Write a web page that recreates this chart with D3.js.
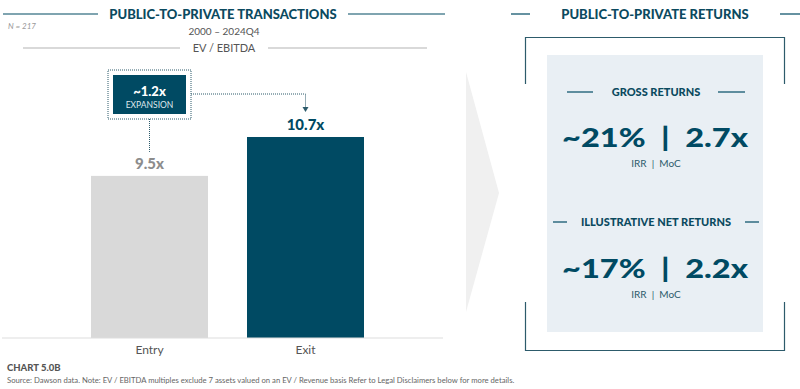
<!DOCTYPE html>
<meta charset="utf-8">
<style>
body { margin: 0; background: #fff; }
svg { font-family: Lato, "Open Sans", sans-serif; }
.bar-entry { fill: #d9d9d9; }
.bar-exit { fill: #004a63; }
</style>
<body>
<script src="https://d3js.org/d3.v7.min.js"></script>
<script>
var categories = ["Entry", "Exit"];
var multiples = [9.5, 10.7];
var valueLabels = ["9.5x", "10.7x"];
var expansionLabel = "~1.2x";
var returnSections = ["GROSS RETURNS", "ILLUSTRATIVE NET RETURNS"];
var returnValues = ["~21%  |  2.7x", "~17%  |  2.2x"];

var w = 800, h = 389;
var teal = "#004a63", dark = "#0b4a5f";
var svg = d3.select("body").append("svg").attr("width", w).attr("height", h);

// left panel header
svg.append("line").attr("x1", 3).attr("x2", 98).attr("y1", 14).attr("y2", 14).attr("stroke", teal).attr("stroke-width", 1.2);
svg.append("line").attr("x1", 348).attr("x2", 445).attr("y1", 14).attr("y2", 14).attr("stroke", teal).attr("stroke-width", 1.2);
svg.append("text").attr("x", 223).attr("y", 19).attr("text-anchor", "middle")
  .attr("font-size", 13).attr("font-weight", 900).attr("fill", dark).text("PUBLIC-TO-PRIVATE TRANSACTIONS");
svg.append("text").attr("x", 8).attr("y", 29).attr("font-size", 8).attr("font-style", "italic")
  .attr("fill", "#999").text("N = 217");
svg.append("text").attr("x", 224).attr("y", 35).attr("text-anchor", "middle")
  .attr("font-size", 10).attr("fill", "#555").text("2000 – 2024Q4");
svg.append("line").attr("x1", 23).attr("x2", 180).attr("y1", 48).attr("y2", 48).attr("stroke", "#ccc").attr("stroke-width", 1.5);
svg.append("line").attr("x1", 268).attr("x2", 427).attr("y1", 48).attr("y2", 48).attr("stroke", "#ccc").attr("stroke-width", 1.5);
svg.append("text").attr("x", 224).attr("y", 52).attr("text-anchor", "middle")
  .attr("font-size", 11).attr("fill", "#555").text("EV / EBITDA");

// bars
var x = d3.scaleBand().domain(categories).range([91, 364]).paddingInner(0.25).paddingOuter(0);
var y = d3.scaleLinear().domain([4.5, 12]).range([338, 94.85]);

var g = svg.append("g");
g.selectAll("rect").data(categories).enter().append("rect")
  .attr("class", function(d, i) { return i == 0 ? "bar-entry" : "bar-exit"; })
  .attr("x", function(d) { return x(d); })
  .attr("y", function(d, i) { return y(multiples[i]); })
  .attr("width", x.bandwidth())
  .attr("height", function(d, i) { return y.range()[0] - y(multiples[i]); });

g.selectAll(".vlabel").data(categories).enter().append("text")
  .attr("class", "vlabel")
  .attr("x", function(d) { return x(d) + x.bandwidth() / 2; })
  .attr("y", function(d, i) { return y(multiples[i]) - 7; })
  .attr("text-anchor", "middle").attr("font-size", 15).attr("font-weight", 900)
  .attr("fill", function(d, i) { return i == 0 ? "#8c8c8c" : teal; })
  .text(function(d, i) { return valueLabels[i]; });

var xAxis = g.append("g").attr("transform", "translate(0,338)")
  .call(d3.axisBottom(x).tickSize(0).tickPadding(7));
xAxis.select(".domain").attr("d", "M2,0H443").attr("stroke", "#ddd").attr("stroke-width", 1.2);
xAxis.selectAll("text").attr("font-size", 12).attr("fill", "#555").attr("font-family", "Lato, sans-serif");

// expansion callout
var cx = x("Entry") + x.bandwidth() / 2, ex = x("Exit") + x.bandwidth() / 2;
svg.append("rect").attr("x", 108).attr("y", 70).attr("width", 83).attr("height", 49)
  .attr("fill", "none").attr("stroke", "#2d5b6b").attr("stroke-width", 1).attr("stroke-dasharray", "1,1");
svg.append("rect").attr("x", 113).attr("y", 75).attr("width", 73).attr("height", 39).attr("fill", teal);
svg.append("text").attr("x", 149.5).attr("y", 96).attr("text-anchor", "middle")
  .attr("font-size", 13).attr("font-weight", 900).attr("fill", "#fff").text(expansionLabel);
svg.append("text").attr("x", 149.5).attr("y", 108).attr("text-anchor", "middle")
  .attr("font-size", 8.5).attr("fill", "#dfe8ec").text("EXPANSION");
svg.append("path").attr("d", "M" + cx + ",119V" + (y(multiples[0]) - 24))
  .attr("fill", "none").attr("stroke", "#2d5b6b").attr("stroke-width", 1).attr("stroke-dasharray", "1,1");
svg.append("path").attr("d", "M191,94H" + ex + "V108")
  .attr("fill", "none").attr("stroke", "#2d5b6b").attr("stroke-width", 1).attr("stroke-dasharray", "1,1");
svg.append("path").attr("d", "M" + (ex - 3) + ",107L" + (ex + 3) + ",107L" + ex + ",112Z").attr("fill", "#2d5b6b");

// chevron
svg.append("path").attr("d", "M466,72L499,193L466,312Z").attr("fill", "#f0f0f0");

// right panel
var rc = 655;
svg.append("line").attr("x1", 511).attr("x2", 530).attr("y1", 14).attr("y2", 14).attr("stroke", teal).attr("stroke-width", 1.2);
svg.append("line").attr("x1", 780).attr("x2", 800).attr("y1", 14).attr("y2", 14).attr("stroke", teal).attr("stroke-width", 1.2);
svg.append("text").attr("x", rc).attr("y", 19).attr("text-anchor", "middle")
  .attr("font-size", 13).attr("font-weight", 900).attr("fill", dark).text("PUBLIC-TO-PRIVATE RETURNS");

svg.append("path").attr("d", "M525.5,84V37.5H784.5V84").attr("fill", "none").attr("stroke", "#2d5b6b").attr("stroke-width", 1.2);
svg.append("path").attr("d", "M525.5,302V350.5H784.5V302").attr("fill", "none").attr("stroke", "#2d5b6b").attr("stroke-width", 1.2);
svg.append("rect").attr("x", 547).attr("y", 55).attr("width", 216).attr("height", 277).attr("fill", "#e9eff4");

var secY = [92, 222], numY = [147, 278];
var lineGap = [[567, 593, 718, 745], [553, 567, 745, 759]];
returnSections.forEach(function(s, i) {
  var lg = lineGap[i];
  svg.append("line").attr("x1", lg[0]).attr("x2", lg[1]).attr("y1", secY[i]).attr("y2", secY[i]).attr("stroke", teal).attr("stroke-width", 1.2);
  svg.append("line").attr("x1", lg[2]).attr("x2", lg[3]).attr("y1", secY[i]).attr("y2", secY[i]).attr("stroke", teal).attr("stroke-width", 1.2);
  svg.append("text").attr("x", rc + 1).attr("y", secY[i] + 4).attr("text-anchor", "middle")
    .attr("font-size", 11).attr("font-weight", 900).attr("fill", dark).text(s);
  svg.append("text").attr("x", rc).attr("y", numY[i]).attr("text-anchor", "middle")
    .attr("font-size", 26).attr("font-weight", 900).attr("fill", teal)
    .attr("textLength", 186).attr("lengthAdjust", "spacingAndGlyphs")
    .style("white-space", "pre").text(returnValues[i]);
  svg.append("text").attr("x", rc + 1).attr("y", numY[i] + 20).attr("text-anchor", "middle")
    .attr("font-size", 10).attr("fill", "#2d5b6b").style("white-space", "pre").text("IRR  |  MoC");
});

// footer
svg.append("text").attr("x", 7).attr("y", 371).attr("font-size", 9.5).attr("font-weight", 900)
  .attr("fill", "#555").text("CHART 5.0B");
svg.append("text").attr("x", 7).attr("y", 383).attr("font-size", 7.7).attr("fill", "#666")
  .text("Source: Dawson data. Note: EV / EBITDA multiples exclude 7 assets valued on an EV / Revenue basis  Refer to Legal Disclaimers below for more details.");
</script>
</body>
